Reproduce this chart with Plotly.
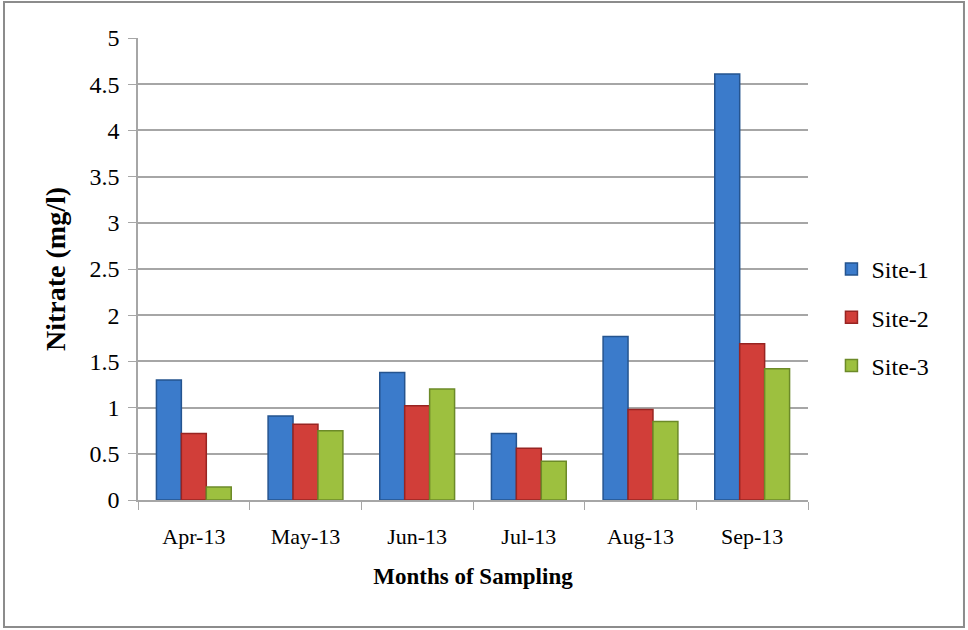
import plotly.graph_objects as go

months = ["Apr-13", "May-13", "Jun-13", "Jul-13", "Aug-13", "Sep-13"]
site_1 = [1.30, 0.91, 1.38, 0.72, 1.77, 4.61]
site_2 = [0.72, 0.82, 1.02, 0.56, 0.98, 1.69]
site_3 = [0.14, 0.75, 1.20, 0.42, 0.85, 1.42]

SERIES = [
    ("Site-1", site_1, "#3B7BCB", "#25548F"),
    ("Site-2", site_2, "#D13E39", "#982422"),
    ("Site-3", site_3, "#9DC03F", "#6C8A28"),
]
FONT = "Liberation Serif"
GRID = "#A6A6A6"

fig = go.Figure()
for name, vals, fill, edge in SERIES:
    fig.add_trace(go.Bar(
        x=months, y=vals, name=name, legendgroup=name,
        marker=dict(color=fill, line=dict(color=edge, width=1.5)),
    ))

fig.update_layout(
    width=968, height=630,
    margin=dict(l=138, r=160, t=38, b=130),
    paper_bgcolor="white", plot_bgcolor="white",
    font=dict(family=FONT, size=22, color="black"),
    barmode="group", bargap=0.33, bargroupgap=0,
    legend=dict(
        x=1.035, xanchor="left", y=0.395, yanchor="middle",
        font=dict(family=FONT, size=24), tracegroupgap=14, itemwidth=30,
        bgcolor="rgba(0,0,0,0)",
    ),
    # grey frame round the whole chart
    shapes=[dict(
        type="rect", xref="paper", yref="paper",
        x0=-0.2, x1=1.2328, y0=-0.2749, y1=1.0779,
        line=dict(color="#8C8C8C", width=2), fillcolor="rgba(0,0,0,0)",
    )],
)

fig.update_xaxes(
    type="category", tickson="boundaries", ticks="outside", ticklen=8,
    tickcolor=GRID, showline=True, linecolor=GRID, linewidth=1.5,
    showgrid=False, ticklabelstandoff=16, tickfont=dict(family=FONT, size=22),
    title=dict(text="<b>Months of Sampling</b>",
               font=dict(family=FONT, size=23), standoff=20),
)
fig.update_yaxes(
    range=[0, 5], dtick=0.5, ticks="outside", ticklen=8, tickcolor=GRID,
    showline=True, linecolor=GRID, linewidth=1.5,
    tickfont=dict(family=FONT, size=24), ticklabelstandoff=4,
    showgrid=True, gridcolor=GRID, gridwidth=1.5, zeroline=False,
    title=dict(text="<b>Nitrate (mg/l)</b>",
               font=dict(family=FONT, size=28), standoff=16),
)

# drop the default 8px page margin so the figure sits at the window origin
fig.write_html("out.html", config={"displayModeBar": False},
               post_script="document.body.style.margin='0';")
